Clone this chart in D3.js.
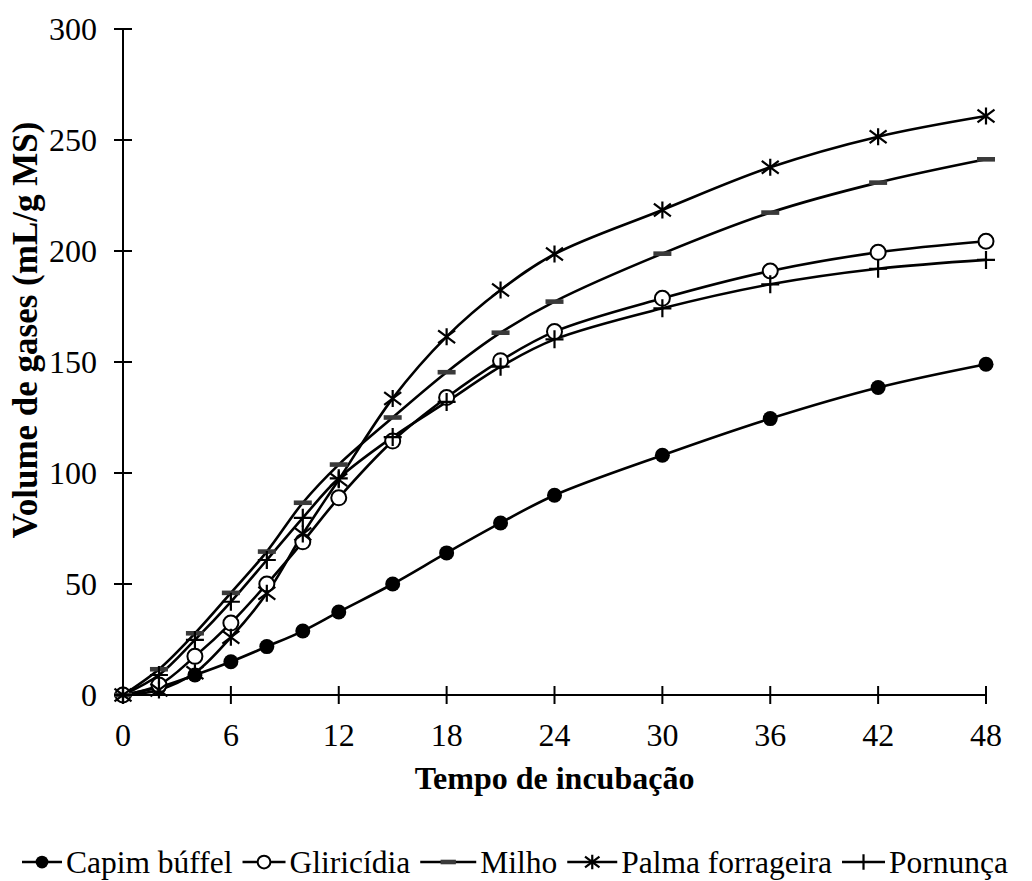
<!DOCTYPE html>
<html><head><meta charset="utf-8">
<script src="https://cdn.jsdelivr.net/npm/d3@7"></script>
<style>
html,body{margin:0;padding:0;background:#fff;}
svg text{font-family:"Liberation Serif","Times New Roman",serif;fill:#000;}
</style></head>
<body><svg id="chart" width="1032" height="881"></svg>
<script>
const times = [0,2,4,6,8,10,12,15,18,21,24,30,36,42,48];
const capim = [0,3.5,9,15,21.8,28.8,37.4,50,64,77.5,90,108,124.5,138.5,149];
const gliricidia = [0,4.5,17.4,32.4,50,69,88.8,114.4,134,150.6,163.7,178.7,191,199.4,204.4];
const milho = [0,11.6,27.8,46,64.6,86.6,103.8,125,145.4,163.2,177.2,198.8,217.3,230.8,241.3];
const palma = [0,2.3,10,26,45.8,72.5,97,133.6,161.4,182.4,198.6,218.5,237.7,251.5,260.8];
const pornunca = [0,9,24.8,42,60.8,79.8,97.6,116.2,132,147.9,160.2,174.2,185,192,196];
const seriesNames = ["Capim búffel","Gliricídia","Milho","Palma forrageira","Pornunça"];
const markerTypes = ["dot","circle","dash","star","plus"];
const xTicks = [0,6,12,18,24,30,36,42,48];
const yTicks = [0,50,100,150,200,250,300];
const xTitle = "Tempo de incubação";
const yTitle = "Volume de gases (mL/g MS)";

const series = [capim, gliricidia, milho, palma, pornunca].map((v,i)=>({
  name: seriesNames[i], marker: markerTypes[i], values: v.map((y,j)=>({t:times[j], v:y}))
}));

const svg = d3.select("#chart");
const x = d3.scaleLinear().domain([0,48]).range([123,986]);
const y = d3.scaleLinear().domain([0,300]).range([695,29]);

// axes
const axisG = svg.append("g");
axisG.append("line").attr("x1",x(0)).attr("x2",x(0)).attr("y1",y(0)).attr("y2",y(300))
  .attr("stroke","#000").attr("stroke-width",2);
axisG.append("line").attr("x1",x(0)).attr("x2",x(48)).attr("y1",y(0)).attr("y2",y(0))
  .attr("stroke","#000").attr("stroke-width",2);
yTicks.forEach(t=>{
  axisG.append("line").attr("x1",x(0)-9).attr("x2",x(0)+9).attr("y1",y(t)).attr("y2",y(t))
    .attr("stroke","#000").attr("stroke-width",2);
  axisG.append("text").attr("x",97).attr("y",y(t)).attr("dy","0.35em")
    .attr("text-anchor","end").style("font-size","32px").text(t);
});
xTicks.forEach(t=>{
  axisG.append("line").attr("x1",x(t)).attr("x2",x(t)).attr("y1",y(0)-9).attr("y2",y(0)+9)
    .attr("stroke","#000").attr("stroke-width",2);
  axisG.append("text").attr("x",x(t)).attr("y",746)
    .attr("text-anchor","middle").style("font-size","32px").text(t);
});
svg.append("text").attr("x",(x(0)+x(48))/2).attr("y",789).attr("text-anchor","middle")
  .style("font-size","32px").style("font-weight","bold").text(xTitle);
svg.append("text").attr("transform","translate(37,330) rotate(-90)").attr("text-anchor","middle")
  .style("font-size","35px").style("font-weight","bold").text(yTitle);

// markers
function drawMarker(g, type, cx, cy, small){
  const k = small ? 0.85 : 1;
  if(type==="dot"){
    g.append("circle").attr("cx",cx).attr("cy",cy).attr("r",7.5*k).attr("fill","#000");
  } else if(type==="circle"){
    g.append("circle").attr("cx",cx).attr("cy",cy).attr("r",7.5*k).attr("fill","#fff")
      .attr("stroke","#000").attr("stroke-width",2);
  } else if(type==="dash"){
    g.append("rect").attr("x",cx-9*k).attr("y",cy-2.3).attr("width",18*k).attr("height",4.6).attr("fill","#3a3a3a");
  } else if(type==="star"){
    const s=8.5*k;
    g.append("path").attr("d",`M${cx-s},${cy-s*0.75}L${cx+s},${cy+s*0.75}M${cx-s},${cy+s*0.75}L${cx+s},${cy-s*0.75}M${cx},${cy-s}L${cx},${cy+s}`)
      .attr("stroke","#000").attr("stroke-width",2.2).attr("fill","none");
  } else if(type==="plus"){
    const s=9*k;
    g.append("path").attr("d",`M${cx-s},${cy}L${cx+s},${cy}M${cx},${cy-s}L${cx},${cy+s}`)
      .attr("stroke","#000").attr("stroke-width",2.2).attr("fill","none");
  }
}

const line = d3.line().x(d=>x(d.t)).y(d=>y(d.v)).curve(d3.curveCatmullRom.alpha(0.5));
const plot = svg.append("g");
series.forEach(s=>{
  plot.append("path").datum(s.values).attr("d",line).attr("fill","none")
    .attr("stroke","#000").attr("stroke-width",2.6);
});
series.forEach(s=>{
  const g = plot.append("g");
  s.values.forEach(d=>drawMarker(g, s.marker, x(d.t), y(d.v), false));
});

// legend
const leg = svg.append("g");
const legY = 862, gapAfter = 4, gapBetween = 10, fs = 31.5;
const lineLens = [40,43,56,50,43];
let cur = 0;
series.forEach((s,i)=>{
  const gi = leg.append("g");
  const L = lineLens[i];
  gi.append("line").attr("x1",cur).attr("x2",cur+L).attr("y1",legY).attr("y2",legY)
    .attr("stroke","#000").attr("stroke-width",2.6);
  drawMarker(gi, s.marker, cur+L/2, legY, true);
  const t = gi.append("text").attr("x",cur+L+gapAfter).attr("y",legY).attr("dy","0.35em")
    .style("font-size",fs+"px").text(s.name);
  const w = t.node().getComputedTextLength();
  cur += L + gapAfter + w + gapBetween;
});
const total = cur - gapBetween;
leg.attr("transform",`translate(${Math.max(0,(1030-total)/2)},0)`);
</script></body></html>
